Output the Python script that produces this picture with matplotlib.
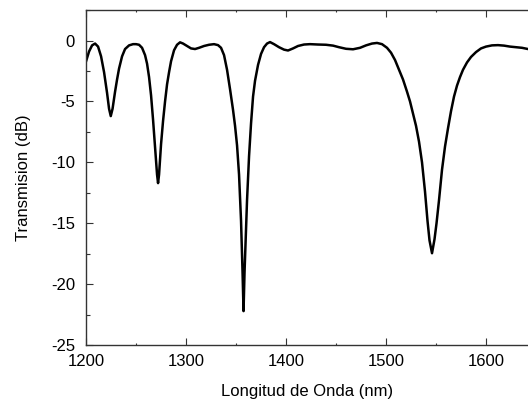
import numpy as np
import matplotlib.pyplot as plt
from matplotlib.ticker import MultipleLocator

plt.rcParams['font.family'] = ['Liberation Sans', 'DejaVu Sans']
plt.rcParams['axes.unicode_minus'] = False

# wavelength (nm) and transmission (dB)
wavelength = [
    1200, 1203, 1206, 1209, 1212, 1215, 1218, 1221, 1223, 1224.7, 1226.5, 1229,
    1231, 1233, 1236, 1239, 1243, 1247, 1250, 1253, 1256, 1259, 1261, 1263,
    1265, 1267, 1269, 1271, 1272, 1273, 1275, 1277, 1279, 1281, 1283, 1285,
    1288, 1291, 1294, 1297, 1301, 1305, 1309, 1313, 1318, 1323, 1328, 1332,
    1335, 1338, 1341, 1344, 1347, 1349, 1351, 1353, 1355, 1356.5, 1357.5,
    1358.5, 1360, 1361, 1363, 1365, 1367, 1369, 1372, 1375, 1378, 1381, 1384,
    1388, 1393, 1398, 1402, 1407, 1412, 1418, 1424, 1432, 1440, 1447, 1453,
    1460, 1467, 1474, 1480, 1486, 1491, 1496, 1501, 1505, 1509, 1513, 1517,
    1521, 1524, 1527, 1530, 1533, 1536, 1539, 1541.5, 1543.5, 1546, 1548.5,
    1550.5, 1553, 1556, 1559, 1562, 1565, 1568, 1571, 1574, 1577, 1581, 1585,
    1590, 1595, 1600, 1606, 1612, 1618, 1624, 1630, 1636, 1642,
]
transmission = [
    -1.7, -0.9, -0.4, -0.25, -0.5, -1.3, -2.6, -4.3, -5.6, -6.2, -5.6, -4.2,
    -3.2, -2.3, -1.3, -0.7, -0.4, -0.3, -0.3, -0.35, -0.6, -1.2, -1.9, -3.0,
    -4.5, -6.5, -8.8, -11.0, -11.7, -11.0, -8.5, -6.6, -5.0, -3.6, -2.6, -1.7,
    -0.8, -0.35, -0.15, -0.25, -0.45, -0.65, -0.7, -0.6, -0.45, -0.35, -0.3, -0.38,
    -0.6, -1.2, -2.4, -4.0, -5.7, -7.0, -8.6, -11.0, -14.8, -19.0, -22.2,
    -19.0, -15.5, -13.1, -9.5, -6.8, -4.6, -3.3, -2.0, -1.1, -0.55, -0.25, -0.13,
    -0.3, -0.55, -0.75, -0.82, -0.65, -0.45, -0.33, -0.3, -0.33, -0.35, -0.42, -0.55,
    -0.68, -0.72, -0.6, -0.4, -0.25, -0.2, -0.3, -0.6, -1.0, -1.6, -2.4, -3.2,
    -4.2, -5.0, -6.0, -7.0, -8.3, -10.0, -12.4, -14.8, -16.4, -17.45, -16.3,
    -15.0, -13.1, -10.6, -8.7, -7.2, -5.8, -4.6, -3.7, -3.0, -2.4, -1.8, -1.35,
    -0.95, -0.65, -0.5, -0.4, -0.38, -0.42, -0.5, -0.55, -0.6, -0.7,
]

fig = plt.figure(figsize=(5.28, 4.01), dpi=100)
ax = fig.add_axes([0.163, 0.139, 0.837, 0.836])

ax.plot(wavelength, transmission, color='black', linewidth=1.8)

ax.set_xlim(1200, 1642)
ax.set_ylim(-25, 2.5)
ax.xaxis.set_major_locator(MultipleLocator(100))
ax.xaxis.set_minor_locator(MultipleLocator(50))
ax.yaxis.set_major_locator(MultipleLocator(5))
ax.yaxis.set_minor_locator(MultipleLocator(2.5))

ax.tick_params(which='both', direction='in', labelsize=12, width=0.8,
               top=True, right=False, color='#333333')
ax.tick_params(which='major', length=5)
ax.tick_params(which='minor', length=3)
ax.tick_params(axis='x', which='both', top=True, length=1.5)
ax.tick_params(axis='x', which='major', bottom=True, length=5)
ax.tick_params(axis='x', pad=6)
ax.tick_params(axis='y', pad=8)
ax.spines['right'].set_visible(False)
for s in ['left', 'bottom', 'top']:
    ax.spines[s].set_linewidth(1.0)
    ax.spines[s].set_color('#333333')

ax.set_xlabel('Longitud de Onda (nm)', fontsize=12, labelpad=11)
ax.set_ylabel('Transmision (dB)', fontsize=12, labelpad=14)

plt.savefig('out.png')
